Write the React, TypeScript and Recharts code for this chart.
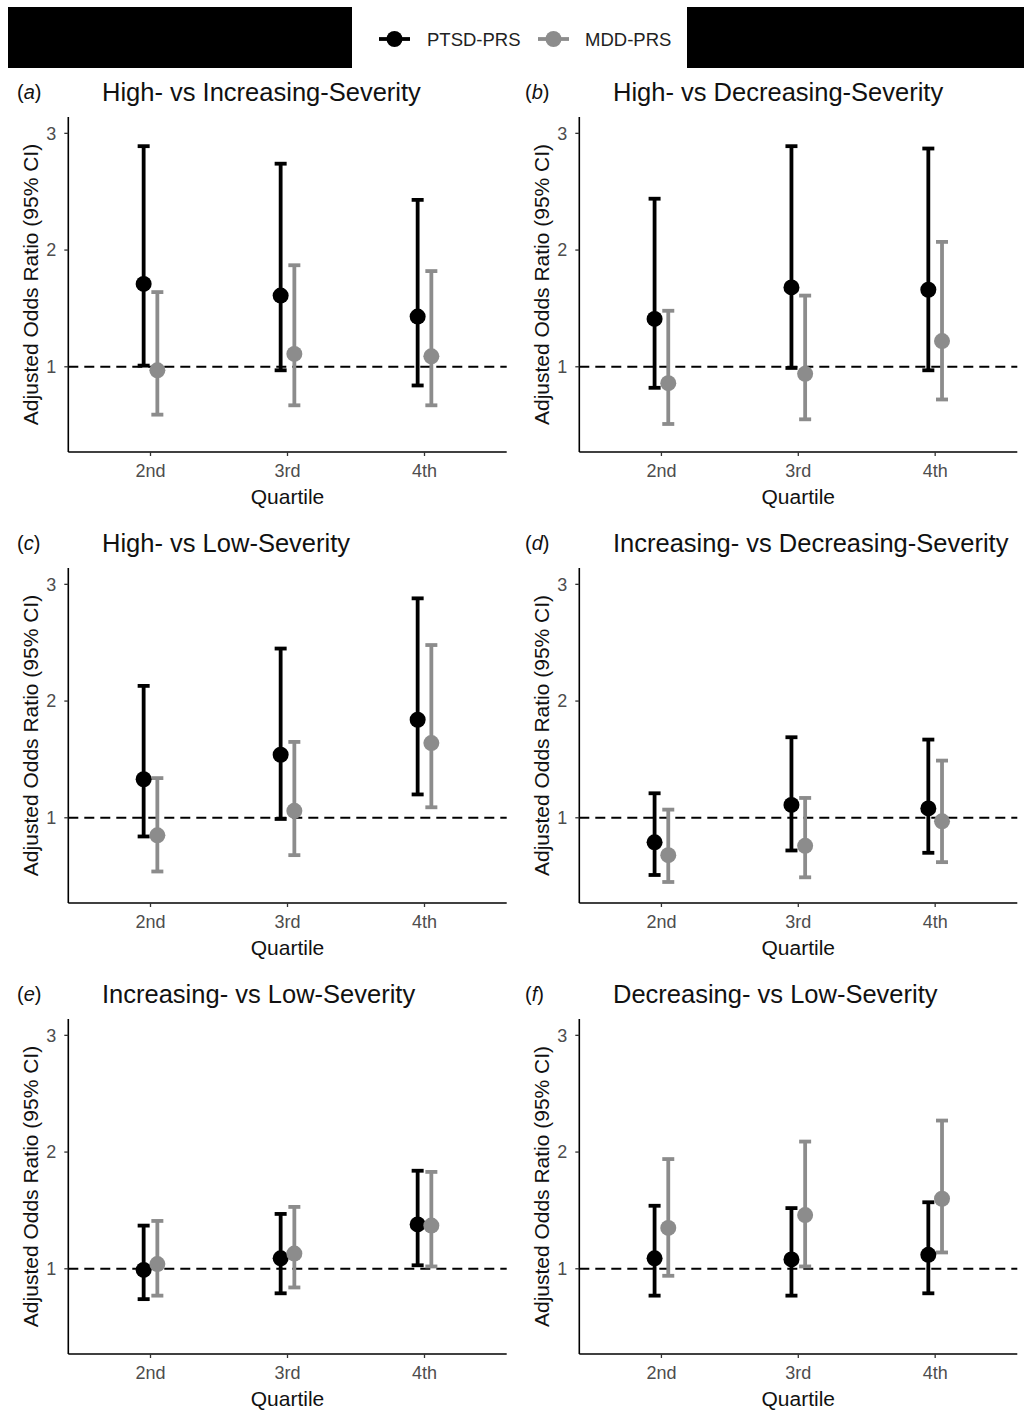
import React from "react";
import {
  ComposedChart,
  Scatter,
  ErrorBar,
  XAxis,
  YAxis,
  ReferenceLine,
} from "recharts";

const quartiles = ["2nd", "3rd", "4th"];
const seriesNames = ["PTSD-PRS", "MDD-PRS"];
const seriesColors = ["#000000", "#8c8c8c"];
const yTicks = [1, 2, 3];

// [odds ratio, lower 95% CI, upper 95% CI] for 2nd, 3rd, 4th quartile
const ptsdA = [[1.71, 1.01, 2.89], [1.61, 0.97, 2.74], [1.43, 0.84, 2.43]];
const mddA = [[0.97, 0.59, 1.64], [1.11, 0.67, 1.87], [1.09, 0.67, 1.82]];
const ptsdB = [[1.41, 0.82, 2.44], [1.68, 0.99, 2.89], [1.66, 0.97, 2.87]];
const mddB = [[0.86, 0.51, 1.48], [0.94, 0.55, 1.61], [1.22, 0.72, 2.07]];
const ptsdC = [[1.33, 0.84, 2.13], [1.54, 0.99, 2.45], [1.84, 1.2, 2.88]];
const mddC = [[0.85, 0.54, 1.34], [1.06, 0.68, 1.65], [1.64, 1.09, 2.48]];
const ptsdD = [[0.79, 0.51, 1.21], [1.11, 0.72, 1.69], [1.08, 0.7, 1.67]];
const mddD = [[0.68, 0.45, 1.07], [0.76, 0.49, 1.17], [0.97, 0.62, 1.49]];
const ptsdE = [[0.99, 0.74, 1.37], [1.09, 0.79, 1.47], [1.38, 1.03, 1.84]];
const mddE = [[1.04, 0.77, 1.41], [1.13, 0.84, 1.53], [1.37, 1.02, 1.83]];
const ptsdF = [[1.09, 0.77, 1.54], [1.08, 0.77, 1.52], [1.12, 0.79, 1.57]];
const mddF = [[1.35, 0.94, 1.94], [1.46, 1.02, 2.09], [1.6, 1.14, 2.27]];

const panels = [
  { letter: "a", title: "High- vs Increasing-Severity", ptsd: ptsdA, mdd: mddA },
  { letter: "b", title: "High- vs Decreasing-Severity", ptsd: ptsdB, mdd: mddB },
  { letter: "c", title: "High- vs Low-Severity", ptsd: ptsdC, mdd: mddC },
  { letter: "d", title: "Increasing- vs Decreasing-Severity", ptsd: ptsdD, mdd: mddD },
  { letter: "e", title: "Increasing- vs Low-Severity", ptsd: ptsdE, mdd: mddE },
  { letter: "f", title: "Decreasing- vs Low-Severity", ptsd: ptsdF, mdd: mddF },
];

const FONT = '"Liberation Sans", Arial, Helvetica, sans-serif';
const DODGE = 0.05;
const rowTops = [116.7, 568.4, 1019.4];
const cols = [
  { left: 0, width: 512, right: 5.3, letterX: 17, titleX: 102 },
  { left: 510.7, width: 513.3, right: 7, letterX: 525, titleX: 613 },
];

function toRows(values: number[][], shift: number) {
  return values.map(([or, lo, hi], i) => ({
    x: i + 1 + shift,
    or,
    err: [or - lo, hi - or],
  }));
}

function Dot(color: string) {
  return (props: any) => (
    <circle cx={props.cx} cy={props.cy} r={8} fill={color} />
  );
}

function Panel({ panel, index }: { panel: any; index: number }) {
  const col = cols[index % 2];
  const plotTop = rowTops[Math.floor(index / 2)];
  const series = [toRows(panel.ptsd, -DODGE), toRows(panel.mdd, DODGE)];
  return (
    <>
      <div
        style={{
          position: "absolute",
          left: col.letterX,
          top: plotTop - 37,
          fontSize: 20,
          lineHeight: "24px",
          color: "#111",
        }}
      >
        (<i>{panel.letter}</i>)
      </div>
      <div
        style={{
          position: "absolute",
          left: col.titleX,
          top: plotTop - 40,
          fontSize: 25.5,
          lineHeight: "30px",
          color: "#111",
          whiteSpace: "nowrap",
        }}
      >
        {panel.title}
      </div>
      <div style={{ position: "absolute", left: col.left, top: plotTop - 10 }}>
        <ComposedChart
          width={col.width}
          height={405}
          margin={{ top: 10, right: col.right, bottom: 0, left: 0 }}
        >
          <XAxis
            type="number"
            dataKey="x"
            domain={[0.4, 3.6]}
            ticks={[1, 2, 3]}
            tickFormatter={(v) => quartiles[v - 1]}
            allowDataOverflow
            height={60}
            stroke="#000"
            strokeWidth={1.6}
            tickSize={4}
            tickMargin={8}
            tickLine={{ stroke: "#333", strokeWidth: 1.3 }}
            tick={{ fontSize: 18, fill: "#4d4d4d" }}
            label={{
              value: "Quartile",
              position: "insideBottom",
              offset: 8,
              fontSize: 21,
              fill: "#111",
            }}
          />
          <YAxis
            type="number"
            dataKey="or"
            domain={[0.27, 3.14]}
            ticks={yTicks}
            allowDataOverflow
            width={68.3}
            stroke="#000"
            strokeWidth={1.6}
            tickSize={4}
            tickMargin={8}
            tickLine={{ stroke: "#333", strokeWidth: 1.3 }}
            tick={{ fontSize: 18, fill: "#4d4d4d" }}
            label={{
              value: "Adjusted Odds Ratio (95% CI)",
              angle: -90,
              position: "center",
              dx: -4,
              fontSize: 21,
              fill: "#111",
            }}
          />
          <ReferenceLine
            y={1}
            stroke="#000"
            strokeWidth={2}
            strokeDasharray="10 6"
          />
          {series.map((rows, s) => (
            <Scatter
              key={seriesNames[s]}
              name={seriesNames[s]}
              data={rows}
              dataKey="or"
              fill={seriesColors[s]}
              shape={Dot(seriesColors[s])}
              isAnimationActive={false}
            >
              <ErrorBar
                dataKey="err"
                direction="y"
                width={6}
                strokeWidth={3.8}
                stroke={seriesColors[s]}
                isAnimationActive={false}
              />
            </Scatter>
          ))}
        </ComposedChart>
      </div>
    </>
  );
}

function TopLegend() {
  const items = [
    { x: 379, textX: 427 },
    { x: 538, textX: 585 },
  ];
  return (
    <svg
      width={1024}
      height={80}
      style={{ position: "absolute", left: 0, top: 0 }}
    >
      <rect x={8} y={7} width={344} height={61} fill="#000" />
      <rect x={687} y={7} width={337} height={61} fill="#000" />
      {items.map((it, i) => (
        <g key={seriesNames[i]}>
          <line
            x1={it.x}
            x2={it.x + 31}
            y1={39}
            y2={39}
            stroke={seriesColors[i]}
            strokeWidth={3.8}
          />
          <circle cx={it.x + 15.5} cy={39} r={8} fill={seriesColors[i]} />
          <text x={it.textX} y={39} dy="0.36em" fontSize={18.5} fill="#222">
            {seriesNames[i]}
          </text>
        </g>
      ))}
    </svg>
  );
}

export default function App() {
  return (
    <div
      style={{
        position: "absolute",
        left: 0,
        top: 0,
        width: 1024,
        height: 1410,
        background: "#fff",
        fontFamily: FONT,
        overflow: "hidden",
      }}
    >
      <TopLegend />
      {panels.map((p, i) => (
        <Panel key={p.letter} panel={p} index={i} />
      ))}
    </div>
  );
}
